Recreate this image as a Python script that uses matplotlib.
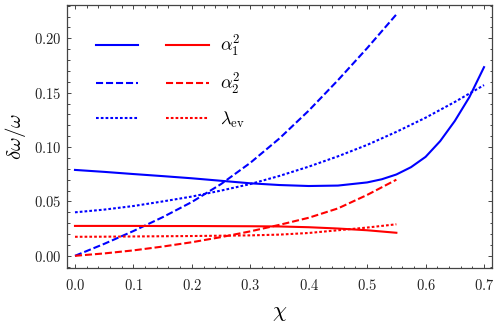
import matplotlib
matplotlib.use('Agg')
import matplotlib.pyplot as plt
from matplotlib.ticker import MultipleLocator, FuncFormatter
from matplotlib.legend_handler import HandlerTuple

plt.rcParams['mathtext.fontset'] = 'cm'
plt.rcParams['font.family'] = 'serif'
plt.rcParams['font.serif'] = ['cmr10', 'DejaVu Serif']
plt.rcParams['axes.unicode_minus'] = False

# chi values and curves
chi = [0.0, 0.05, 0.1, 0.15, 0.2, 0.25, 0.3, 0.35, 0.4, 0.45, 0.5, 0.55]
chi_long = [0.0, 0.05, 0.1, 0.15, 0.2, 0.25, 0.3, 0.35, 0.4, 0.45, 0.5,
            0.525, 0.55, 0.575, 0.6, 0.625, 0.65, 0.675, 0.7]
chi_dot = [0.0, 0.05, 0.1, 0.15, 0.2, 0.25, 0.3, 0.35, 0.4, 0.45, 0.5,
           0.55, 0.6, 0.65, 0.7]

blue_solid = [0.0790, 0.0772, 0.0752, 0.0733, 0.0713, 0.0690, 0.0667, 0.0651,
              0.0642, 0.0646, 0.0675, 0.0704, 0.0748, 0.0815, 0.0910, 0.1055,
              0.1240, 0.1460, 0.1735]
blue_dashed = [0.0, 0.0110, 0.0228, 0.0355, 0.0495, 0.0660, 0.0855, 0.1080,
               0.1335, 0.1615, 0.1910, 0.2220]
blue_dotted = [0.0400, 0.0425, 0.0458, 0.0500, 0.0545, 0.0600, 0.0660, 0.0735,
               0.0820, 0.0915, 0.1020, 0.1140, 0.1270, 0.1415, 0.1570]
red_solid = [0.0275, 0.0275, 0.0275, 0.0274, 0.0274, 0.0273, 0.0272, 0.0270,
             0.0263, 0.0251, 0.0235, 0.0212]
red_dashed = [0.0, 0.0022, 0.0050, 0.0085, 0.0125, 0.0172, 0.0225, 0.0285,
              0.0350, 0.0436, 0.0560, 0.0700]
red_dotted = [0.0175, 0.0176, 0.0178, 0.0180, 0.0182, 0.0185, 0.0188, 0.0195,
              0.0210, 0.0235, 0.0260, 0.0290]

labels = [r'$\alpha_1^2$', r'$\alpha_2^2$', r'$\lambda_{\rm ev}$']

dash = (3.4, 1.4)
dot = (1.3, 1.0)

fig = plt.figure(figsize=(4.98, 3.31), dpi=100)
ax = fig.add_axes([0.1345, 0.191, 0.8535, 0.795])

b1, = ax.plot(chi_long, blue_solid, color='blue', lw=1.5)
b2, = ax.plot(chi, blue_dashed, color='blue', lw=1.5, dashes=dash)
b3, = ax.plot(chi_dot, blue_dotted, color='blue', lw=1.5, dashes=dot)
r1, = ax.plot(chi, red_solid, color='red', lw=1.5)
r2, = ax.plot(chi, red_dashed, color='red', lw=1.5, dashes=dash)
r3, = ax.plot(chi, red_dotted, color='red', lw=1.5, dashes=dot)

ax.set_xlim(-0.0137, 0.7137)
ax.set_ylim(-0.011, 0.231)

ax.xaxis.set_major_locator(MultipleLocator(0.1))
ax.xaxis.set_minor_locator(MultipleLocator(0.02))
ax.yaxis.set_major_locator(MultipleLocator(0.05))
ax.yaxis.set_minor_locator(MultipleLocator(0.01))
ax.xaxis.set_major_formatter(FuncFormatter(lambda v, p: r'$%.1f$' % v))
ax.yaxis.set_major_formatter(FuncFormatter(lambda v, p: r'$%.2f$' % v))
ax.tick_params(which='both', direction='in', top=True, right=True,
               colors='#444444', labelcolor='#222222', labelsize=10.5, width=0.7)
ax.tick_params(which='major', length=3.2)
ax.tick_params(axis='x', which='major', pad=7)
ax.tick_params(axis='y', which='major', pad=4)
ax.tick_params(which='minor', length=1.8)
for s in ax.spines.values():
    s.set_color('#444444')
    s.set_linewidth(0.9)

ax.set_xlabel(r'$\chi$', fontsize=16, labelpad=8)
ax.set_ylabel(r'$\delta\omega/\omega$', fontsize=15, labelpad=4)

ax.legend([(b1, r1), (b2, r2), (b3, r3)], labels,
          handler_map={tuple: HandlerTuple(ndivide=None, pad=1.55)},
          frameon=False, fontsize=13, handlelength=6.3, handletextpad=0.6,
          labelspacing=0.72, borderpad=0,
          loc='upper left', bbox_to_anchor=(0.046, 0.925))

fig.savefig('out.png', dpi=100)
